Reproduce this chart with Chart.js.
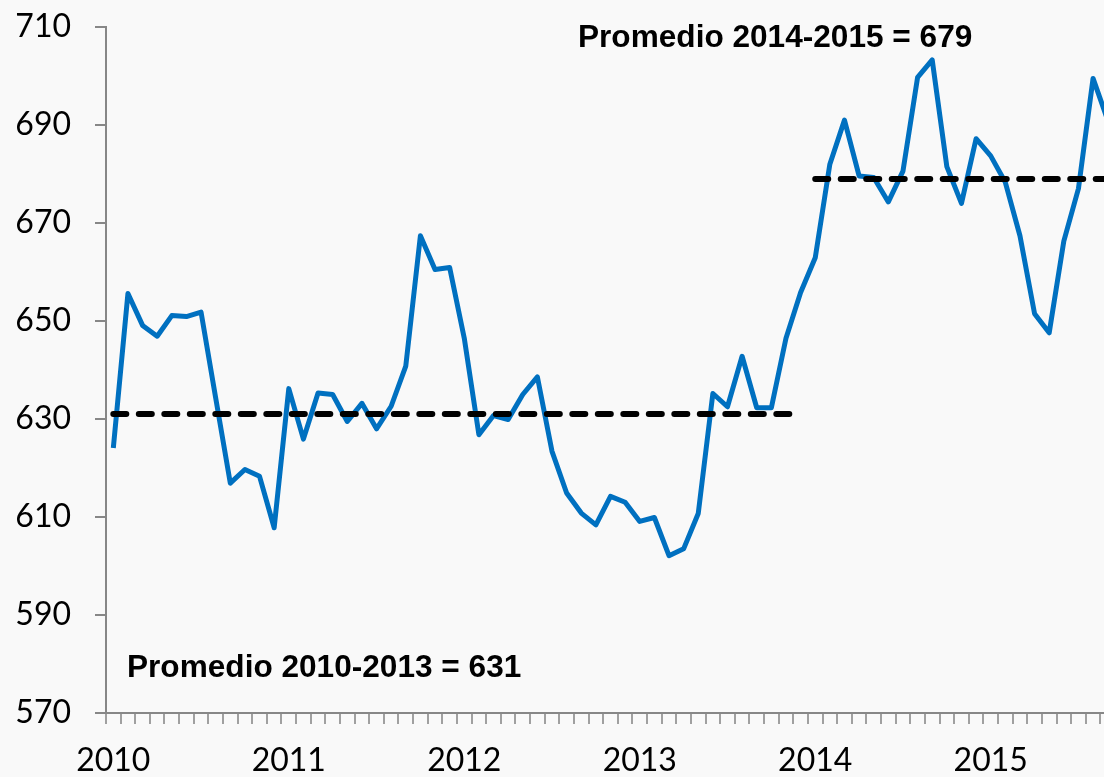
<!DOCTYPE html>
<html>
<head>
<meta charset="utf-8">
<script src="https://cdn.jsdelivr.net/npm/chart.js@4/dist/chart.umd.min.js"></script>
<style>
    html, body { margin: 0; padding: 0; background: #f9f9f9; overflow: hidden; }
    #wrap { width: 1104px; height: 777px; overflow: hidden; position: relative; }
    canvas { display: block; }
</style>
</head>
<body>
<div id="wrap"><canvas id="chart" width="1115" height="777"></canvas></div>
<script>
/* ============================================================
   DATA
============================================================ */

const years = ["2010", "2011", "2012", "2013", "2014", "2015"];
const monthsShown = 69;   // Jan 2010 .. Sep 2015 (picture is cut on the right)

// monthly values
const values = [
    624.1, 655.6, 649.1, 646.9, 651.1, 650.9, 651.8, 634.3, 616.9, 619.7, 618.3, 607.8,
    636.2, 625.9, 635.3, 635.0, 629.5, 633.2, 628.0, 632.6, 640.8, 667.4, 660.5, 660.9,
    646.5, 626.8, 630.7, 629.9, 635.0, 638.6, 623.4, 614.9, 610.8, 608.4, 614.2, 613.0,
    609.1, 609.9, 602.1, 603.5, 610.7, 635.2, 632.5, 642.8, 632.3, 632.3, 646.5, 655.8,
    662.9, 682.0, 691.0, 679.6, 679.3, 674.3, 680.6, 699.7, 703.3, 681.5, 674.0, 687.2,
    683.7, 678.3, 667.4, 651.5, 647.6, 666.3, 677.0, 699.5, 691.0
];

// period averages: value, first month index, last month index
const averages = [631, 679];
const avgFrom  = [0, 48];
const avgTo    = [47, 68];
const avgTexts = ["Promedio 2010-2013 = 631", "Promedio 2014-2015 = 679"];

const yMin = 570, yMax = 710, yStep = 20;

/* ============================================================
   BUILD
============================================================ */

const labels = [];
for (let i = 0; i < monthsShown; i++) {
    labels.push(years[Math.floor(i / 12)] + "-" + String(i % 12 + 1).padStart(2, "0"));
}

const avgDatasets = averages.map((a, k) => ({
    data: labels.map((_, i) => (i >= avgFrom[k] && i <= avgTo[k]) ? a : null),
    borderColor: "#000000",
    borderWidth: 6,
    borderDash: [13, 12.5],
    borderCapStyle: "round",
    pointRadius: 0,
    spanGaps: false,
    order: 0
}));

const grey = "#878787";

/* ============================================================
   TEXT LABELS
============================================================ */

const notes = {
    id: "notes",
    afterDraw(chart) {
        const ctx = chart.ctx;
        ctx.save();
        ctx.font = "bold 31.6px 'Liberation Sans', Arial, sans-serif";
        ctx.fillStyle = "#000";
        ctx.textBaseline = "alphabetic";
        ctx.textAlign = "left";
        ctx.fillText(avgTexts[0], 127, 677);
        ctx.fillText(avgTexts[1], 578, 47);
        ctx.restore();
    }
};

/* ============================================================
   CHART
============================================================ */

new Chart(document.getElementById("chart"), {
    type: "line",
    data: {
        labels: labels,
        datasets: [
            ...avgDatasets,
            {
                data: values,
                borderColor: "#0070c0",
                borderWidth: 5,
                borderJoinStyle: "round",
                pointRadius: 0,
                tension: 0,
                order: 1
            }
        ]
    },
    options: {
        responsive: false,
        animation: false,
        layout: { padding: { top: 27, left: 0, right: 0, bottom: 0 } },
        plugins: { legend: { display: false }, tooltip: { enabled: false } },
        scales: {
            x: {
                type: "category",
                offset: true,
                afterFit: s => { s.height = 64; s.paddingLeft = 0; s.paddingRight = 0; },
                border: { display: true, color: grey, width: 2 },
                grid: {
                    offset: true,
                    drawOnChartArea: false,
                    drawTicks: true,
                    tickLength: 11,
                    color: "#a0a0a0",
                    lineWidth: 2
                },
                ticks: {
                    autoSkip: false,
                    maxRotation: 0,
                    padding: 17,
                    color: "#000",
                    font: { family: "Lato", size: 32 },
                    callback: (v, i) => (i % 12 === 0 ? years[i / 12] : "")
                }
            },
            y: {
                min: yMin,
                max: yMax,
                afterFit: s => { s.width = 106; s.paddingTop = 0; s.paddingBottom = 0; },
                border: { display: true, color: grey, width: 2 },
                grid: {
                    drawOnChartArea: false,
                    drawTicks: true,
                    tickLength: 11,
                    color: grey,
                    lineWidth: 2
                },
                ticks: {
                    stepSize: yStep,
                    padding: 24,
                    color: "#000",
                    font: { family: "Lato", size: 32 }
                }
            }
        }
    },
    plugins: [notes]
});
</script>
</body>
</html>
